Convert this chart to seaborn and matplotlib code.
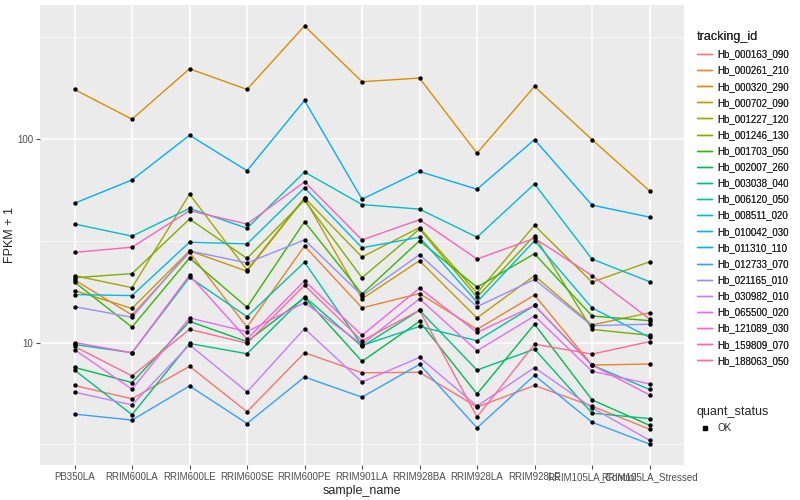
import numpy as np
import pandas as pd
import matplotlib
import matplotlib.pyplot as plt
import seaborn as sns
from matplotlib.lines import Line2D
from matplotlib.ticker import FixedLocator, NullFormatter

matplotlib.use('Agg')

# ---- data (FPKM + 1) ----
samples = ['PB350LA', 'RRIM600LA', 'RRIM600LE', 'RRIM600SE', 'RRIM600PE', 'RRIM901LA',
           'RRIM928BA', 'RRIM928LA', 'RRIM928LE', 'RRIM105LA_Control', 'RRIM105LA_Stressed']

tracking_ids = ['Hb_000163_090', 'Hb_000261_210', 'Hb_000320_290', 'Hb_000702_090',
                'Hb_001227_120', 'Hb_001246_130', 'Hb_001703_050', 'Hb_002007_260',
                'Hb_003038_040', 'Hb_006120_050', 'Hb_008511_020', 'Hb_010042_030',
                'Hb_011310_110', 'Hb_012733_070', 'Hb_021165_010', 'Hb_030982_010',
                'Hb_065500_020', 'Hb_121089_030', 'Hb_159809_070', 'Hb_188063_050']

hb_000163_090 = [6.15, 5.29, 7.64, 4.57, 8.91, 7.10, 7.14, 4.82, 6.15, 4.87, 3.75]
hb_000261_210 = [20.3, 13.65, 27.7, 11.9, 29.8, 14.8, 17.4, 11.6, 17.1, 7.75, 7.84]
hb_000320_290 = [175, 125, 221, 175, 359, 191, 199, 85.1, 181, 99.2, 55.6]
hb_000702_090 = [18.0, 14.7, 28.2, 22.4, 51.0, 16.4, 25.2, 13.2, 21.3, 12.2, 14.0]
hb_001227_120 = [21.3, 18.6, 53.5, 22.7, 51.4, 26.3, 36.7, 17.5, 37.6, 19.8, 24.9]
hb_001246_130 = [20.8, 21.8, 40.4, 25.9, 50.0, 20.8, 36.1, 16.7, 33.5, 11.6, 10.85]
hb_001703_050 = [19.8, 11.9, 26.0, 14.9, 39.2, 17.3, 31.6, 18.7, 27.3, 13.5, 12.8]
hb_002007_260 = [7.55, 6.36, 12.7, 10.1, 16.6, 8.08, 12.7, 5.59, 12.3, 5.23, 3.92]
hb_003038_040 = [7.32, 4.42, 9.89, 8.81, 16.8, 9.56, 14.4, 7.32, 9.28, 4.50, 4.23]
hb_006120_050 = [9.78, 8.91, 20.9, 13.4, 24.8, 9.67, 12.0, 10.2, 15.2, 7.75, 5.88]
hb_008511_020 = [38.2, 33.3, 45.6, 36.4, 68.8, 47.6, 45.2, 32.9, 60.1, 25.7, 19.9]
hb_010042_030 = [17.2, 17.0, 31.1, 30.5, 57.5, 29.2, 32.9, 15.8, 31.6, 14.8, 10.6]
hb_011310_110 = [48.3, 62.9, 104.2, 69.8, 154.5, 50.6, 69.2, 56.6, 99.2, 47.3, 41.3]
hb_012733_070 = [4.45, 4.16, 6.12, 4.00, 6.77, 5.39, 7.81, 3.81, 6.90, 4.06, 3.17]
hb_021165_010 = [15.0, 13.3, 28.2, 24.6, 31.9, 17.0, 27.0, 15.0, 20.4, 12.1, 12.3]
hb_030982_010 = [5.70, 4.94, 9.74, 5.72, 11.7, 6.40, 8.45, 4.87, 7.53, 4.78, 3.31]
hb_065500_020 = [9.21, 5.90, 13.2, 11.3, 15.7, 9.78, 16.4, 9.11, 13.5, 7.22, 6.26]
hb_121089_030 = [10.0, 8.91, 21.4, 10.4, 20.1, 10.85, 18.5, 11.2, 15.2, 7.75, 5.53]
hb_159809_070 = [27.7, 29.4, 44.4, 38.2, 61.5, 31.9, 40.1, 25.7, 32.5, 21.3, 13.05]
hb_188063_050 = [9.56, 6.85, 11.6, 9.92, 19.1, 10.2, 14.4, 4.31, 9.81, 8.77, 10.1]

series = [hb_000163_090, hb_000261_210, hb_000320_290, hb_000702_090, hb_001227_120,
          hb_001246_130, hb_001703_050, hb_002007_260, hb_003038_040, hb_006120_050,
          hb_008511_020, hb_010042_030, hb_011310_110, hb_012733_070, hb_021165_010,
          hb_030982_010, hb_065500_020, hb_121089_030, hb_159809_070, hb_188063_050]

# ggplot default hue palette for 20 levels
colors = ['#F8766D', '#EA8331', '#D89000', '#C09B00', '#A3A500', '#7CAE00', '#39B600',
          '#00BB4E', '#00BF7D', '#00C1A3', '#00BFC4', '#00BAE0', '#00B0F6', '#35A2FF',
          '#9590FF', '#C77CFF', '#E76BF3', '#FA62DB', '#FF62BC', '#FF6C91']

rows = []
for tid, vals in zip(tracking_ids, series):
    for i, v in enumerate(vals):
        rows.append({'tracking_id': tid, 'sample_name': samples[i], 'x': i, 'fpkm1': v,
                     'quant_status': 'OK'})
df = pd.DataFrame(rows)

# ---- plot ----
sns.set_theme(style='darkgrid', rc={'axes.facecolor': '#EBEBEB', 'grid.color': 'white'})
plt.rcParams['font.family'] = ['Liberation Sans', 'DejaVu Sans']

fig = plt.figure(figsize=(8, 5), dpi=100)
ax = fig.add_axes([0.05, 0.07, 0.805, 0.92])

sns.lineplot(data=df, x='x', y='fpkm1', hue='tracking_id', hue_order=tracking_ids,
             palette=colors, linewidth=1.0, legend=False, ax=ax, sort=False)
sns.scatterplot(data=df, x='x', y='fpkm1', color='black', marker='o', s=10,
                linewidth=0, legend=False, ax=ax, zorder=5)

ax.set_yscale('log')
lo, hi = np.log10(df['fpkm1'].min()), np.log10(df['fpkm1'].max())
pad = (hi - lo) * 0.05
ax.set_ylim(10 ** (lo - pad), 10 ** (hi + pad))
ax.set_xlim(-0.6, len(samples) - 0.4)

ax.yaxis.set_major_locator(FixedLocator([10, 100]))
ax.yaxis.set_minor_locator(FixedLocator([10 ** 0.5, 10 ** 1.5, 10 ** 2.5]))
ax.yaxis.set_minor_formatter(NullFormatter())
ax.set_yticklabels(['10', '100'])
ax.set_xticks(range(len(samples)))
ax.set_xticklabels(samples)

ax.grid(which='major', color='white', linewidth=1.1)
ax.grid(which='minor', axis='y', color='white', linewidth=0.5)
ax.tick_params(axis='both', which='major', labelsize=7, colors='#4D4D4D', length=3,
               width=0.8, direction='out', pad=2, left=True, bottom=True)
ax.tick_params(axis='y', which='minor', length=0)
for s in ax.spines.values():
    s.set_visible(False)

ax.set_xlabel('sample_name', fontsize=9, labelpad=2)
ax.set_ylabel('FPKM + 1', fontsize=9, labelpad=1)

# legends
line_handles = [Line2D([0], [0], color=c, lw=1) for c in colors]
leg1 = fig.legend(line_handles, tracking_ids, title='tracking_id', loc='upper left',
                  bbox_to_anchor=(0.86, 0.955), frameon=False, fontsize=7,
                  title_fontsize=9, handlelength=1.6, labelspacing=0.63,
                  handletextpad=0.5, alignment='left')
fig.add_artist(leg1)
pt = [Line2D([0], [0], color='black', marker='s', markersize=3, lw=0)]
fig.legend(pt, ['OK'], title='quant_status', loc='upper left',
           bbox_to_anchor=(0.86, 0.205), frameon=False, fontsize=7,
           title_fontsize=9, handlelength=1.6, handletextpad=0.5, alignment='left')

fig.savefig('out.png', dpi=100)
